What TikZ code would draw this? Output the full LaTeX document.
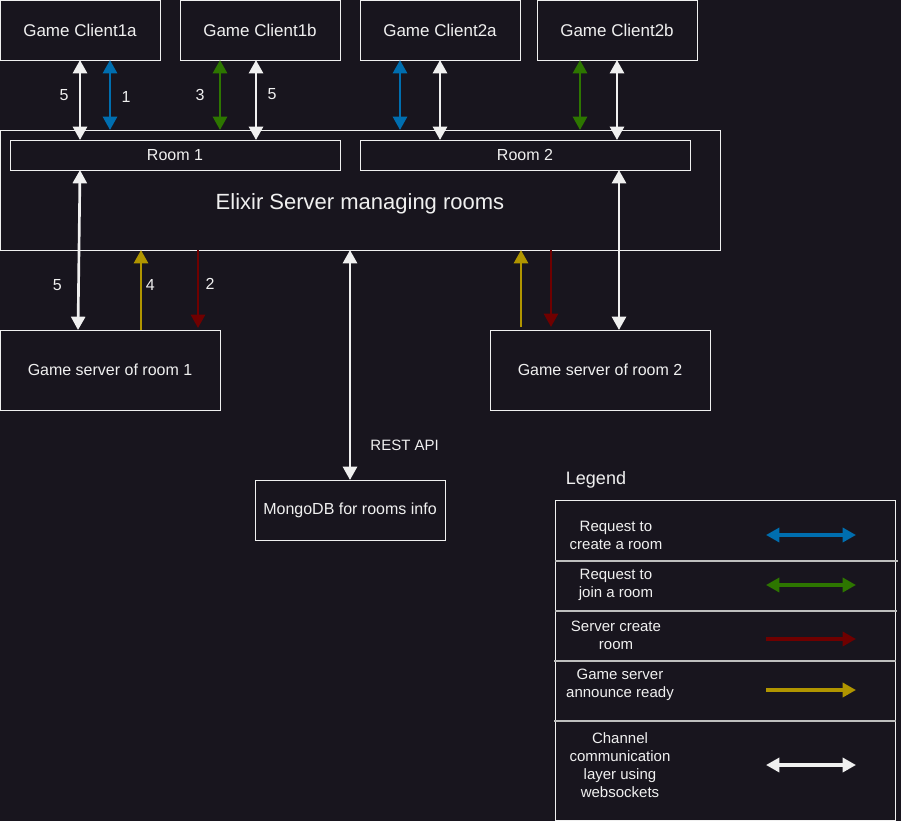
\documentclass[tikz,border=0pt]{standalone}
\usepackage{fontspec}
\setmainfont{Liberation Sans}
\usetikzlibrary{arrows.meta,calc}

\definecolor{bgdark}{RGB}{24,21,30}
\definecolor{fgline}{RGB}{240,240,240}
\definecolor{rowgray}{RGB}{190,190,190}
\definecolor{reqblue}{HTML}{006EAF}
\definecolor{joingreen}{HTML}{2D7600}
\definecolor{createred}{HTML}{6F0000}
\definecolor{readygold}{HTML}{B09500}

\begin{document}
\begin{tikzpicture}[x=0.75pt,y=-0.75pt,>={Triangle[length=10pt,width=10.5pt]},
    box/.style={draw=fgline,line width=0.75pt,fill=bgdark,text=fgline,inner sep=0pt,
        outer sep=0pt,font=\fontsize{12}{14}\selectfont},
    wire/.style={line width=2pt},
    chanarrow/.style={wire,<->,fgline},
    reqarrow/.style={wire,<->,reqblue},
    joinarrow/.style={wire,<->,joingreen},
    createarrow/.style={wire,->,createred},
    readyarrow/.style={wire,->,readygold},
    num/.style={text=fgline,font=\fontsize{12}{14}\selectfont},
    lgtext/.style={text=fgline,align=center,font=\fontsize{11.25}{13.5}\selectfont},
    rowline/.style={draw=rowgray,line width=1pt}]
    \fill [bgdark] (0,0) rectangle (901,821);
    \useasboundingbox (0,0) rectangle (901,821);

    % clients
    \node [box,minimum width=120pt,minimum height=45pt,font=\fontsize{12.75}{15}\selectfont] (c1a) at (80,30) {Game Client1a};
    \node [box,minimum width=120pt,minimum height=45pt,font=\fontsize{12.75}{15}\selectfont] (c1b) at (260,30) {Game Client1b};
    \node [box,minimum width=120pt,minimum height=45pt,font=\fontsize{12.75}{15}\selectfont] (c2a) at (440,30) {Game Client2a};
    \node [box,minimum width=120pt,minimum height=45pt,font=\fontsize{12.75}{15}\selectfont] (c2b) at (617,30) {Game Client2b};

    % server and rooms
    \node [box,minimum width=540pt,minimum height=90pt] (elixir) at (360,190) {};
    \node [text=fgline,font=\fontsize{16.5}{20}\selectfont] (elixirtitle) at (360,204) {Elixir Server managing rooms};
    \node [box,minimum width=247.5pt,minimum height=22.5pt] (room1) at (175,155) {Room 1};
    \node [box,minimum width=247.5pt,minimum height=22.5pt] (room2) at (525,155) {Room 2};

    \node [box,minimum width=165pt,minimum height=60pt] (gs1) at (110,370) {Game server of room 1};
    \node [box,minimum width=165pt,minimum height=60pt] (gs2) at (600,370) {Game server of room 2};
    \node [box,minimum width=142.5pt,minimum height=45pt] (mongo) at (350,510) {MongoDB for rooms info};

    % clients to rooms
    \draw [chanarrow] ($(c1a.south west)+(80,0)$) -- ($(room1.north west)+(70,0)$)
        node [num,midway,xshift=-12pt,yshift=3.5pt] {5};
    \draw [reqarrow] ($(c1a.south west)+(110,0)$) -- ($(elixir.north west)+(110,0)$)
        node [num,midway,xshift=12pt,yshift=-1.5pt] {1};
    \draw [joinarrow] ($(c1b.south west)+(40,0)$) -- ($(elixir.north west)+(220,0)$)
        node [num,midway,xshift=-15pt] {3};
    \draw [chanarrow] ($(c1b.south west)+(76,0)$) -- ($(room1.north west)+(246,0)$)
        node [num,midway,xshift=12pt,yshift=4.5pt] {5};
    \draw [reqarrow] ($(c2a.south west)+(40,0)$) -- ($(elixir.north west)+(400,0)$);
    \draw [chanarrow] ($(c2a.south west)+(80,0)$) -- ($(room2.north west)+(80,0)$);
    \draw [joinarrow] ($(c2b.south west)+(43,0)$) -- ($(elixir.north west)+(580,0)$);
    \draw [chanarrow] (c2b.south) -- ($(room2.north west)+(257,0)$);

    % rooms to game servers
    \draw [chanarrow] ($(room1.south west)+(70,0)$) -- ($(gs1.north west)+(78,0)$)
        node [num,pos=0.72,xshift=-16pt] {5};
    \draw [readyarrow] ($(gs1.north west)+(141,0)$) -- ($(elixir.south west)+(141,0)$)
        node [num,pos=0.56,xshift=7pt] {4};
    \draw [createarrow] ($(elixir.south west)+(198,0)$) -- ($(gs1.north west)+(198,-2)$)
        node [num,pos=0.44,xshift=9pt] {2};
    \draw [readyarrow] ($(gs2.north west)+(31,-3)$) -- ($(elixir.south west)+(521,0)$);
    \draw [createarrow] ($(elixir.south west)+(551,0)$) -- ($(gs2.north west)+(61,-3)$);
    \draw [chanarrow] ($(room2.south west)+(259,0)$) -- ($(gs2.north west)+(129,0)$);

    % rest api
    \draw [chanarrow] ($(elixir.south west)+(350,0)$) -- (mongo.north)
        node [pos=0.85,anchor=west,xshift=11pt,text=fgline,font=\fontsize{11.25}{13.5}\selectfont] {REST API};

    % legend
    \node [text=fgline,font=\fontsize{13.5}{16}\selectfont] (legendtitle) at (596,480) {Legend};
    \node [box,minimum width=255pt,minimum height=240pt] (legend) at (725,660) {};
    \draw [rowline] (555,561) -- (898,561);
    \draw [rowline] (555,611) -- (897,611);
    \draw [rowline] (554,661) -- (896,661);
    \draw [rowline] (554,721) -- (896,721);

    \node [lgtext] (lgreq) at (616,535) {Request to\\create a room};
    \node [lgtext] (lgjoin) at (616,585) {Request to\\join a room};
    \node [lgtext] (lgcreate) at (616,635) {Server create\\room};
    \node [lgtext] (lgready) at (620,685) {Game server\\announce ready};
    \node [lgtext] (lgchan) at (620,765) {Channel\\communication\\layer using\\websockets};

    \foreach \yy/\sty [count=\i] in {535/reqarrow,585/joinarrow,639/createarrow,690/readyarrow,765/chanarrow}
        \draw [\sty,line width=2.5pt] (766,\yy) coordinate (lgs\i) -- (856,\yy) coordinate (lge\i);
\end{tikzpicture}
\end{document}
